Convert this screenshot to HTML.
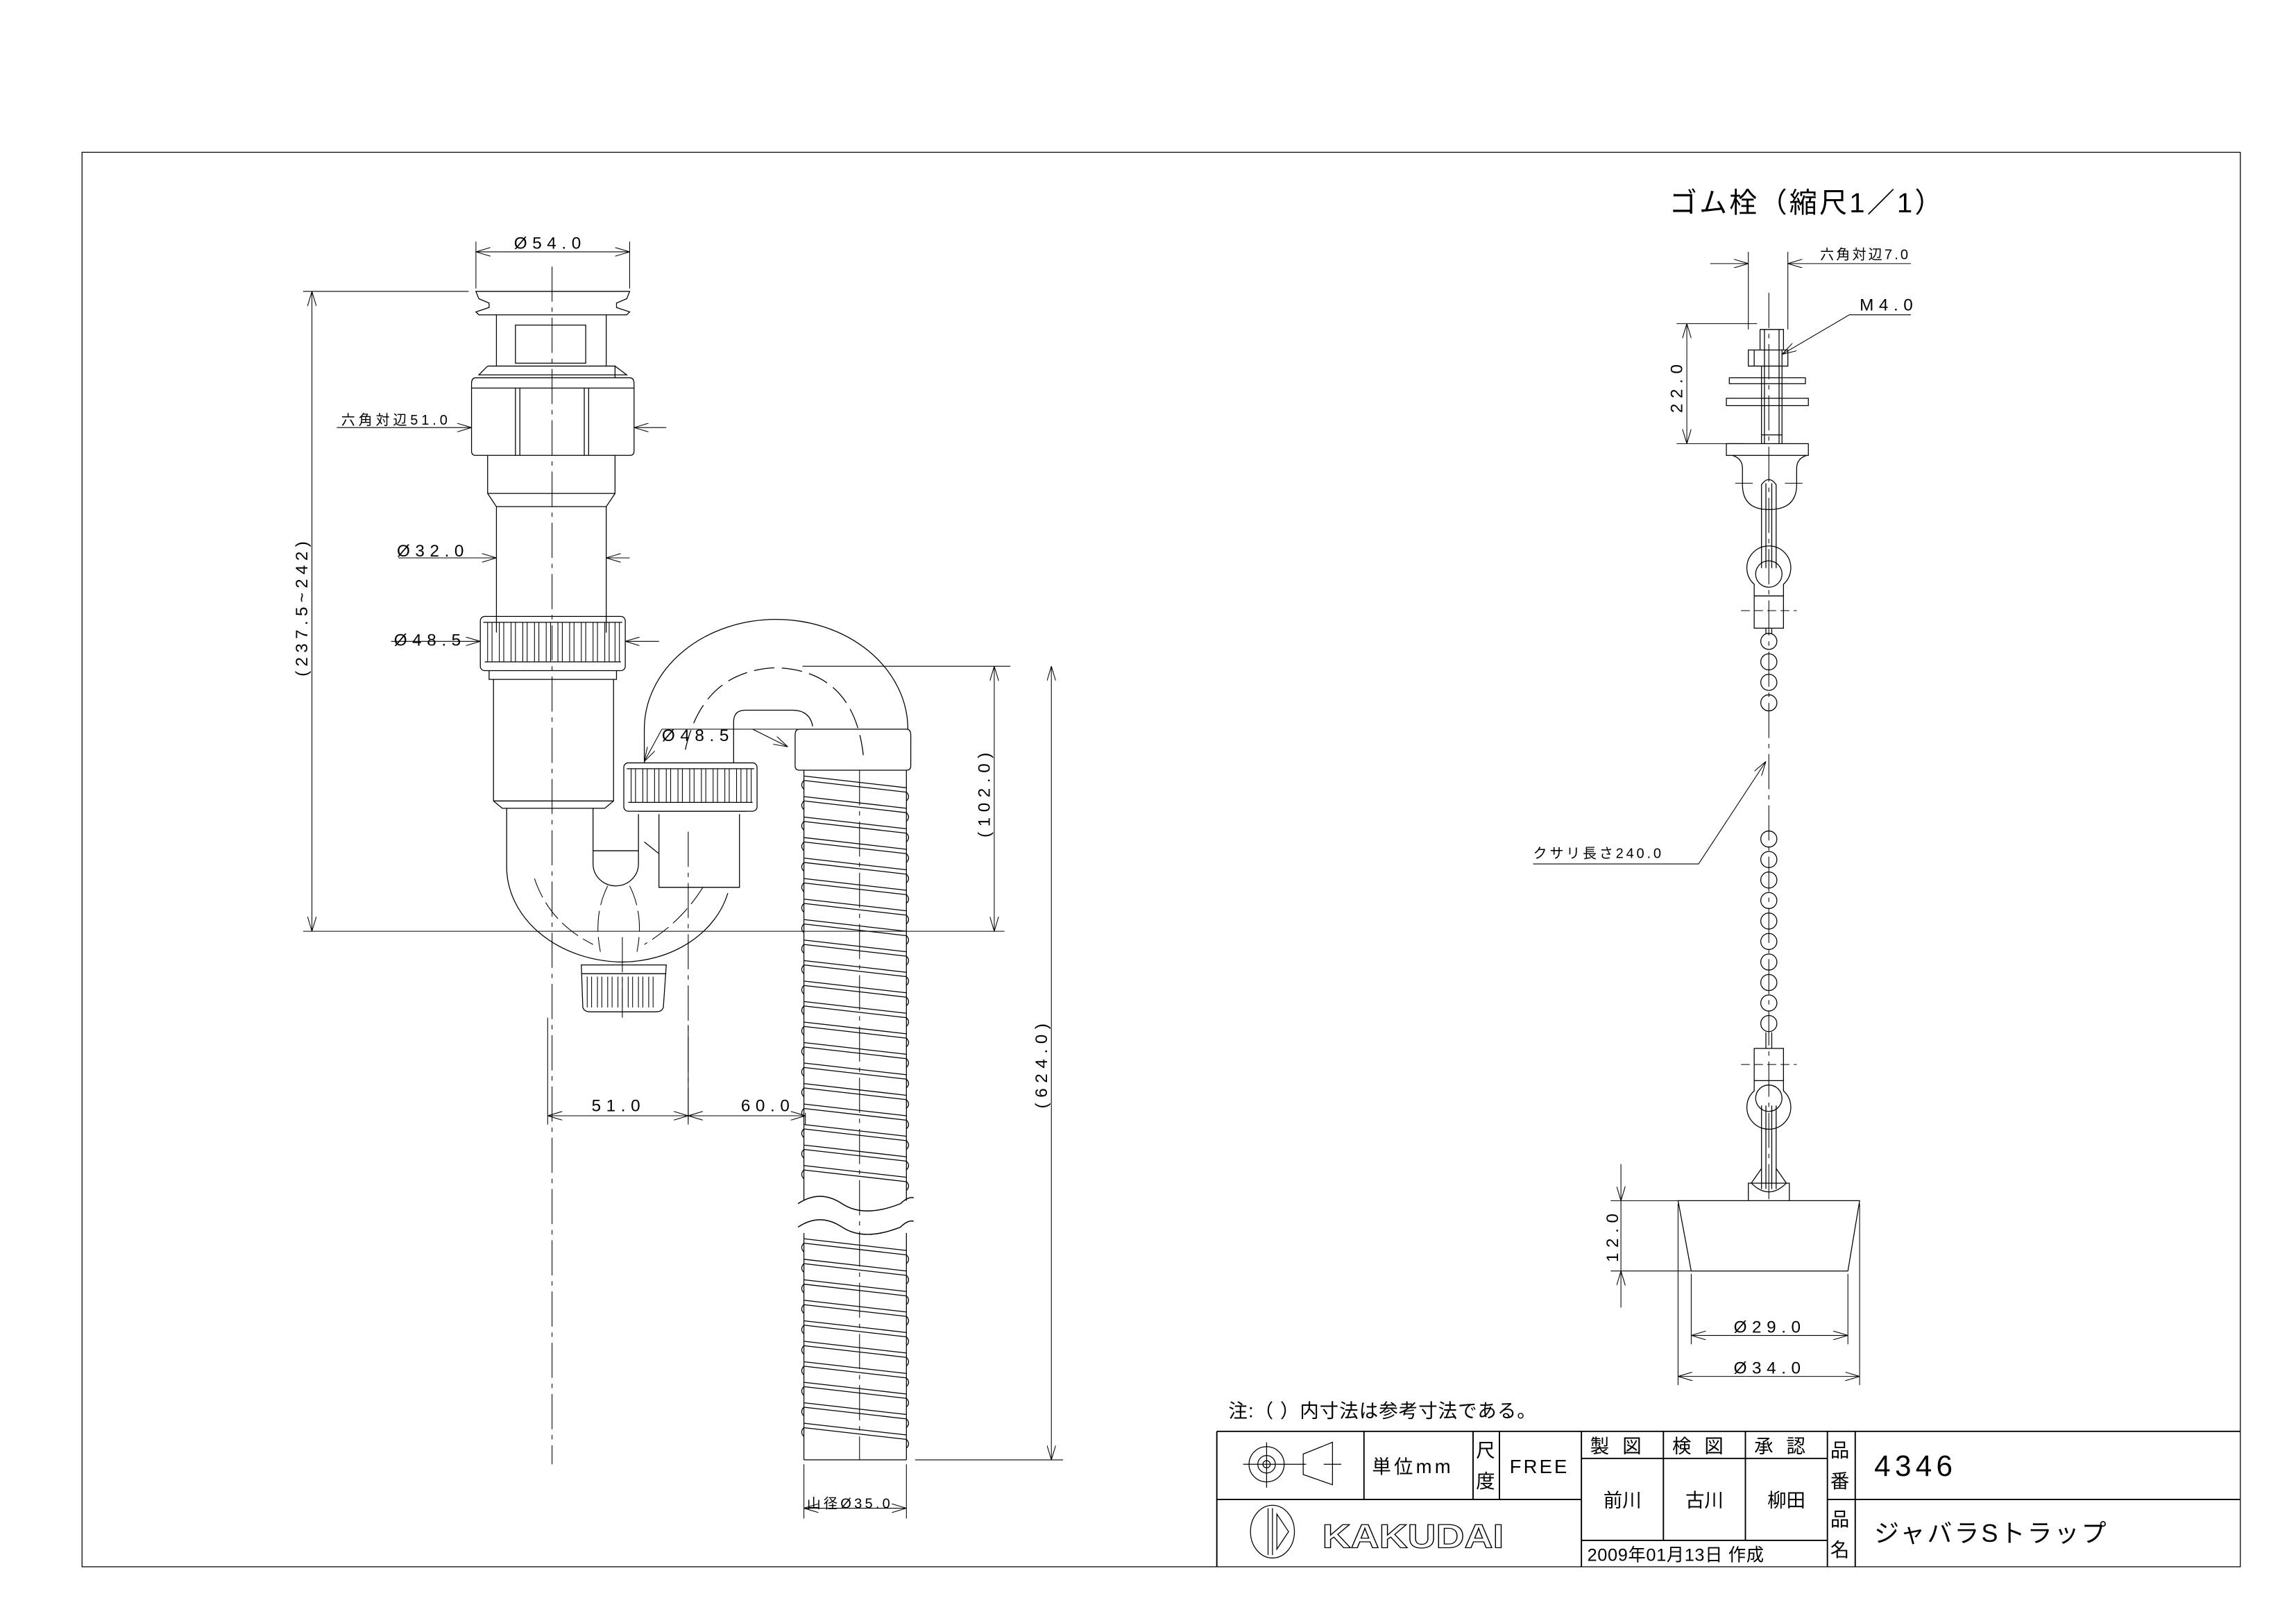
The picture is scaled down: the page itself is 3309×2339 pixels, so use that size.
<!DOCTYPE html>
<html><head><meta charset="utf-8"><style>
html,body{margin:0;padding:0;background:#fff;}
svg{display:block;}
text{font-family:"Liberation Sans","Noto Sans CJK JP",sans-serif;fill:#000;}
</style></head><body>
<svg width="3309" height="2339" viewBox="0 0 1568 1108.4" xmlns="http://www.w3.org/2000/svg">
<defs>
<marker id="a" viewBox="0 0 10 6" refX="10" refY="3" markerWidth="10" markerHeight="6" orient="auto-start-reverse" markerUnits="userSpaceOnUse"><path d="M0,0 L10,3 L0,6" fill="none" stroke="#000" stroke-width="0.5"/></marker>
<g id="corr"><path d="M549,0 L619,8 M549,3 L619,11" stroke="#000" stroke-width="0.6" fill="none"/><path d="M549,3 q-3,3 0,6 M619,11 q3,3 0,6" stroke="#000" stroke-width="0.6" fill="none"/></g>
<g id="bead"><circle cx="1208" cy="0" r="5.5" fill="none" stroke="#000" stroke-width="0.6"/></g>
<g id="rib"><path d="M0,0 V1 M3,0 V1" stroke="#000" stroke-width="0.5" fill="none"/></g>
</defs>
<g fill="none" stroke="#000" stroke-width="0.6">
<rect x="56" y="104" width="1474" height="966"/>
<path d="M831,977.5 H1530 M831,1024 H1080 M1248,1024 H1530 M1080,996 H1248 M1080,1052 H1248 M831,977.5 V1070 M931.5,977.5 V1024 M1006,977.5 V1024 M1024,977.5 V1024 M1080,977.5 V1070 M1136,977.5 V1052 M1192,977.5 V1052 M1248,977.5 V1070 M1267,977.5 V1070" stroke-width="0.9"/>
<circle cx="865" cy="1000" r="12"/><circle cx="865" cy="1000" r="6"/><circle cx="865" cy="1000" r="2.5"/>
<path d="M849,1000 H892 M865,985 V1016 M890,993 L910,985 V1014 L890,1007 Z M904,1000 H916"/>
<ellipse cx="869" cy="1046" rx="15" ry="18"/><path d="M866,1030 V1062 M869,1030 V1062 M872,1034 L880,1046 L872,1058 Z"/>

<!-- ===== LEFT DRAWING ===== -->
<path d="M377,182 V1000 M470,568 V765 M425,640 V695" stroke-dasharray="24,4,3,4" stroke-width="0.5"/>
<path d="M325,199 H430 L428,204 L421,207 L421,210 L430,213 L428,215 H327 L325,213 L334,210 L334,207 L327,204 Z"/>
<path d="M339,215 V250 H414 V215 M352,222 H400 V248 H352 Z M333,250 H420 V258"/>
<path d="M333,250 L327,256 H428 L420,250"/>
<path d="M325,258 H430 Q433,258 433,262 V308 Q433,311 430,311 H325 Q322,311 322,308 V262 Q322,258 325,258 Z M322,265 H433"/>
<path d="M352,265 V311 M355,265 V311 M399,265 V311 M402,265 V311"/>
<path d="M333,311 V337 L339,346 V432 M420,311 V337 L414,346 V432 M333,337 H420 M339,346 H414"/>
<!-- knurled ring 1 -->
<rect x="328" y="421" width="99" height="37" rx="3"/>
<path d="M330,425 H425 M331,452 H424 M334,458 V464 H421 V458"/>
<g transform="translate(0,425) scale(1,27)">
<use href="#rib" x="333"/><use href="#rib" x="341"/><use href="#rib" x="349"/><use href="#rib" x="357"/><use href="#rib" x="365"/><use href="#rib" x="373"/><use href="#rib" x="381"/><use href="#rib" x="389"/><use href="#rib" x="397"/><use href="#rib" x="405"/><use href="#rib" x="413"/><use href="#rib" x="420"/>
</g>
<path d="M337,464 V547 L343,552 H413 L419,547 V464 M337,547 H419"/>
<!-- J trap -->
<path d="M346,552 V592 A80,65 0 0 0 425,657 A75,62 0 0 0 497,610"/>
<path d="M405,552 V590 A15.5,15 0 0 0 436,590 V556 M405,581 H436"/>
<path d="M365,600 Q375,630 405,645 M480,606 Q465,630 440,645 M415,605 Q405,625 410,650 M430,605 Q440,625 435,650" stroke-dasharray="14,4" stroke-width="0.5"/>
<path d="M397,659 H455 L453,688 Q452,691 448,691 H403 Q399,691 398,688 Z M397,665 H455"/>
<g transform="translate(0,667) scale(1,21)">
<use href="#rib" x="401"/><use href="#rib" x="408"/><use href="#rib" x="415"/><use href="#rib" x="422"/><use href="#rib" x="429"/><use href="#rib" x="436"/><use href="#rib" x="443"/>
</g>
<path d="M450,556 V606 H505 V556"/>
<path d="M440,575 L450,583"/>
<rect x="426" y="521" width="91" height="33" rx="3"/>
<path d="M428,525 H515 M429,548 H514 M436,554 H510"/>
<g transform="translate(0,525) scale(1,23)">
<use href="#rib" x="431"/><use href="#rib" x="439"/><use href="#rib" x="447"/><use href="#rib" x="455"/><use href="#rib" x="463"/><use href="#rib" x="471"/><use href="#rib" x="479"/><use href="#rib" x="487"/><use href="#rib" x="495"/><use href="#rib" x="503"/><use href="#rib" x="510"/>
</g>
<!-- upper arc -->
<path d="M440,521 V498 A90,75 0 0 1 620,498"/>
<path d="M501,521 V493 Q501,485 509,485 H541 Q553,485 555,496"/>
<path d="M468,512 Q480,458 530,456 Q585,458 590,520" stroke-dasharray="14,5"/>
<path d="M546,498 H619 Q622,498 622,502 V523 Q622,526 619,526 H546 Q543,526 543,523 V502 Q543,498 546,498 Z"/>
<path d="M549,526 V820 M619,526 V820 M549,842 V997 M619,842 V997 M549,997 H619"/>
<path d="M545,822 Q560,812 575,822 T615,822 Q620,817 624,818 M545,838 Q560,828 575,838 T615,838 Q620,833 624,834" stroke-width="0.7"/>
<path d="M587,526 V997" stroke-dasharray="24,4,3,4" stroke-width="0.5"/>
<use href="#corr" y="530"/><use href="#corr" y="544"/><use href="#corr" y="558"/><use href="#corr" y="572"/><use href="#corr" y="586"/><use href="#corr" y="600"/><use href="#corr" y="614"/><use href="#corr" y="628"/><use href="#corr" y="642"/><use href="#corr" y="656"/><use href="#corr" y="670"/><use href="#corr" y="684"/><use href="#corr" y="698"/><use href="#corr" y="712"/><use href="#corr" y="726"/><use href="#corr" y="740"/><use href="#corr" y="754"/><use href="#corr" y="768"/><use href="#corr" y="782"/><use href="#corr" y="796"/><use href="#corr" y="846"/><use href="#corr" y="860"/><use href="#corr" y="874"/><use href="#corr" y="888"/><use href="#corr" y="902"/><use href="#corr" y="916"/><use href="#corr" y="930"/><use href="#corr" y="944"/><use href="#corr" y="958"/><use href="#corr" y="972"/>
<g stroke-width="0.5">
<path d="M325,165 V197 M430,165 V197"/>
<path d="M325,172 H430" marker-start="url(#a)" marker-end="url(#a)"/>
<path d="M207,199 H320 M207,636 H686"/>
<path d="M213,199 V636" marker-start="url(#a)" marker-end="url(#a)"/>
<path d="M230,292 H322" marker-end="url(#a)"/><path d="M455,292 H433" marker-end="url(#a)"/>
<path d="M272,381 H339" marker-end="url(#a)"/><path d="M430,381 H414" marker-end="url(#a)"/>
<path d="M267,438 H328" marker-end="url(#a)"/><path d="M450,438 H427" marker-end="url(#a)"/>
<path d="M452,498 H545"/>
<path d="M452,498 L440,520" marker-end="url(#a)"/><path d="M514,498 L538,510" marker-end="url(#a)"/>
<path d="M548,455 H690"/>
<path d="M679,455 V636" marker-start="url(#a)" marker-end="url(#a)"/>
<path d="M625,997 H726"/>
<path d="M718,455 V997" marker-start="url(#a)" marker-end="url(#a)"/>
<path d="M374,695 V768 M470,700 V768 M550,760 V768"/>
<path d="M374,762 H470" marker-start="url(#a)" marker-end="url(#a)"/>
<path d="M470,762 H550" marker-start="url(#a)" marker-end="url(#a)"/>
<path d="M549,1000 V1037 M619,1000 V1037"/>
<path d="M549,1030 H619" marker-start="url(#a)" marker-end="url(#a)"/>
</g>

<!-- ===== RIGHT DRAWING ===== -->
<path d="M1208,200 V820" stroke-dasharray="24,4,3,4" stroke-width="0.5"/>
<path d="M1202,225 H1218 V239 M1202,225 V239 M1203,250 V303 M1217,250 V303 M1205,225 V303 M1215,225 V303 M1203,297 H1217"/>
<path d="M1194,239 H1221 V250 H1194 Z M1198,239 V250 M1217,239 V250"/>
<rect x="1181" y="258" width="52" height="4"/>
<rect x="1179" y="272" width="56" height="5"/>
<rect x="1179" y="303" width="56" height="8"/>
<path d="M1183,311 Q1190,313 1190,320 V331 Q1190,348 1208,348 Q1227,348 1227,331 V320 Q1227,313 1234,311"/>
<path d="M1185,330 H1197 M1219,330 H1231" stroke-width="0.5"/>
<path d="M1203,388 V331 Q1208,324 1213,331 V388 M1206,330 V388 M1210,330 V388"/>
<path d="M1198,399 A15,15 0 1 1 1218,399 V407 H1198 Z"/>
<circle cx="1208" cy="392" r="9"/>
<rect x="1198" y="407" width="20" height="22"/>
<path d="M1189,417 H1227" stroke-width="0.5" stroke-dasharray="6,3"/>
<path d="M1206,429 V433 M1210,429 V433"/>
<use href="#bead" y="438"/><use href="#bead" y="452"/><use href="#bead" y="466"/><use href="#bead" y="480"/>
<use href="#bead" y="573"/><use href="#bead" y="587"/><use href="#bead" y="601"/><use href="#bead" y="615"/><use href="#bead" y="629"/><use href="#bead" y="643"/><use href="#bead" y="657"/><use href="#bead" y="671"/><use href="#bead" y="685"/><use href="#bead" y="699"/>
<path d="M1206,705 V716 M1210,705 V716"/>
<rect x="1198" y="716" width="20" height="22"/>
<path d="M1189,727 H1227" stroke-width="0.5" stroke-dasharray="6,3"/>
<path d="M1198,738 V745 A15,15 0 1 0 1218,745 V738"/>
<circle cx="1208" cy="750" r="9"/>
<path d="M1203,755 V812 M1213,755 V812 M1206,755 V812 M1210,755 V812"/>
<path d="M1196,808 L1203,798 M1220,808 L1213,798 M1196,808 Q1208,820 1220,808 M1194,820 V808 H1222 V820"/>
<path d="M1146,820 H1270 L1262,868 H1155 Z"/>
<g stroke-width="0.5">
<path d="M1194,172 V225 M1221,172 V225"/>
<path d="M1168,180 H1194" marker-end="url(#a)"/><path d="M1305,180 H1221" marker-end="url(#a)"/>
<path d="M1305,215 H1263 L1217,242" marker-end="url(#a)"/>
<path d="M1145,221 H1200 M1145,303 H1190"/>
<path d="M1152,221 V303" marker-start="url(#a)" marker-end="url(#a)"/>
<path d="M1047,590 H1160 L1206,520" marker-end="url(#a)"/>
<path d="M1100,820 H1146 M1100,868 H1155"/>
<path d="M1107,795 V820" marker-end="url(#a)"/><path d="M1107,893 V868" marker-end="url(#a)"/><path d="M1107,820 V868"/>
<path d="M1155,870 V918 M1262,870 V918 M1146,822 V946 M1270,822 V946"/>
<path d="M1155,912 H1262" marker-start="url(#a)" marker-end="url(#a)"/>
<path d="M1146,940 H1270" marker-start="url(#a)" marker-end="url(#a)"/>
</g>
</g>

<g font-size="11.5" letter-spacing="3.6">
<text x="351" y="170">Ø54.0</text>
<text x="233" y="290" font-size="9.5" letter-spacing="2.3">六角対辺51.0</text>
<text x="271" y="380">Ø32.0</text>
<text x="269" y="441">Ø48.5</text>
<text x="452" y="506">Ø48.5</text>
<text x="404" y="759">51.0</text>
<text x="506" y="759">60.0</text>
<text x="551" y="1030" font-size="9.5" letter-spacing="2">山径Ø35.0</text>
<text transform="translate(210,462) rotate(-90)" letter-spacing="3">(237.5~242)</text>
<text transform="translate(676,572) rotate(-90)">(102.0)</text>
<text transform="translate(715,757) rotate(-90)">(624.0)</text>
<text x="1243" y="177" font-size="9.5" letter-spacing="1.5">六角対辺7.0</text>
<text x="1270" y="212">M4.0</text>
<text transform="translate(1149,282) rotate(-90)">22.0</text>
<text x="1047" y="586" font-size="9.5" letter-spacing="1.8">クサリ長さ240.0</text>
<text transform="translate(1105,862) rotate(-90)">12.0</text>
<text x="1184" y="910">Ø29.0</text>
<text x="1184" y="938">Ø34.0</text>
</g>
<text x="1140" y="145" font-size="19" letter-spacing="1.5">ゴム栓（縮尺1／1）</text>
<text x="839" y="968" font-size="13" letter-spacing="0.5">注:（ ）内寸法は参考寸法である。</text>
<g font-size="13">
<text x="937" y="1006" letter-spacing="2">単位mm</text>
<text x="1008" y="995">尺</text><text x="1008" y="1016">度</text>
<text x="1031" y="1006" letter-spacing="1.5">FREE</text>
<text x="1086" y="992" letter-spacing="9">製図</text>
<text x="1142" y="992" letter-spacing="9">検図</text>
<text x="1198" y="992" letter-spacing="9">承認</text>
<text x="1095" y="1029">前川</text>
<text x="1151" y="1029">古川</text>
<text x="1207" y="1029">柳田</text>
<text x="1250" y="995">品</text><text x="1250" y="1016">番</text>
<text x="1250" y="1042">品</text><text x="1250" y="1063">名</text>
<text x="1084" y="1066" font-size="12" letter-spacing="0.3">2009年01月13日 作成</text>
<text x="1280" y="1053" font-size="17" letter-spacing="1.5">ジャバラSトラップ</text>
</g>
<text x="1280" y="1008" font-size="20" letter-spacing="3">4346</text>
<text x="903" y="1057" font-size="23" font-weight="bold" stroke="#000" stroke-width="0.6" textLength="124" lengthAdjust="spacingAndGlyphs" style="fill:none">KAKUDAI</text>
</svg>
</body></html>
